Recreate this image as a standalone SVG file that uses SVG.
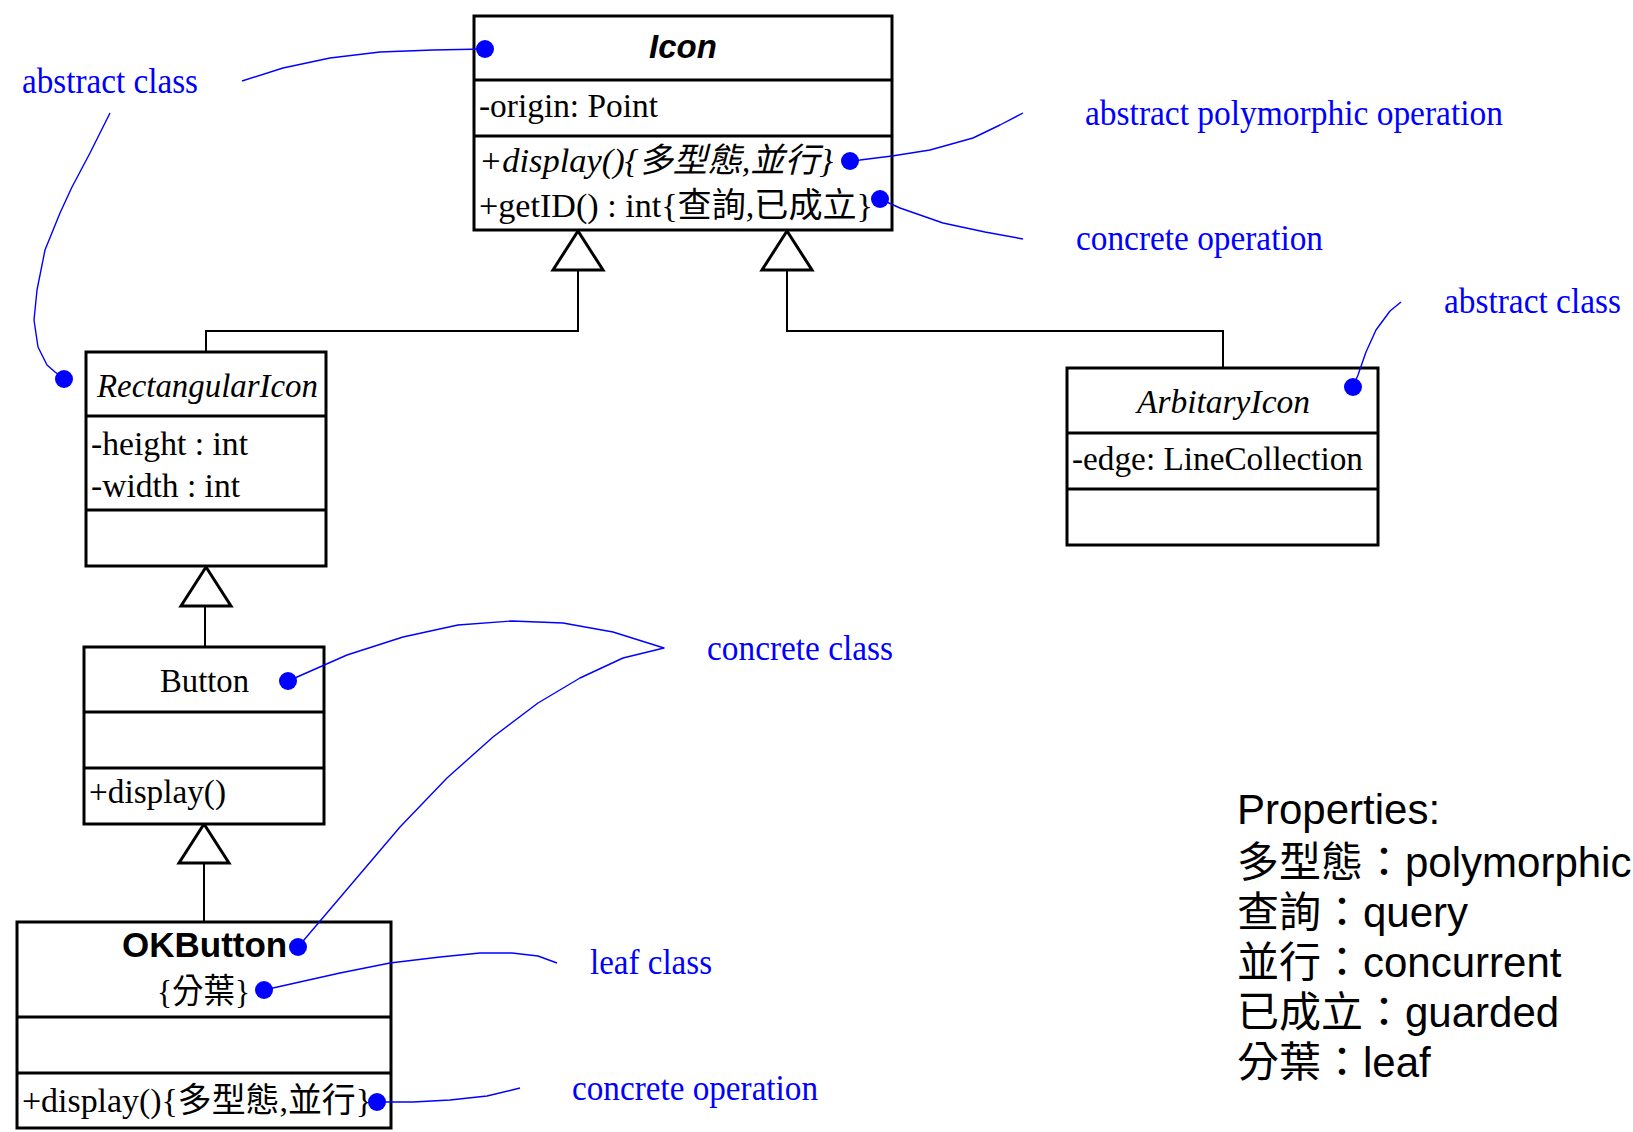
<svg xmlns="http://www.w3.org/2000/svg" width="1633" height="1132" viewBox="0 0 1633 1132">
<style>
.box{fill:#fff;stroke:#000;stroke-width:3}
.div{stroke:#000;stroke-width:3}
.con{fill:none;stroke:#000;stroke-width:2}
.tri{fill:#fff;stroke:#000;stroke-width:3;stroke-linejoin:miter}
.ldr{fill:none;stroke:#0000ff;stroke-width:1.4;stroke-linejoin:round}
.dot{fill:#0000ff}
.s{font-family:"Liberation Serif","Noto Sans CJK TC",serif;font-size:34px;fill:#000}
.i{font-style:italic}
.b{font-family:"Liberation Sans",Arial,sans-serif;font-weight:bold;fill:#000}
.note{font-family:"Liberation Serif","Noto Sans CJK TC",serif;font-size:35px;fill:#0000ff}
.prop{font-family:"Liberation Sans","Noto Sans CJK TC",sans-serif;font-size:42px;fill:#000}
</style>
<rect width="1633" height="1132" fill="#fff"/>

<g id="connectors">
  <polyline class="con" points="578,270 578,331 206,331 206,352"/>
  <polyline class="con" points="787,270 787,331 1223,331 1223,368"/>
  <line class="con" x1="205" y1="606" x2="205" y2="647"/>
  <line class="con" x1="204" y1="863" x2="204" y2="922"/>
  <polygon class="tri" points="578,231 553,270 603,270"/>
  <polygon class="tri" points="787,231 762,270 812,270"/>
  <polygon class="tri" points="206,567 181,606 231,606"/>
  <polygon class="tri" points="204,824 179,863 229,863"/>
</g>

<g id="Icon">
  <rect class="box" x="474" y="16" width="418" height="214"/>
  <line class="div" x1="474" y1="80" x2="892" y2="80"/>
  <line class="div" x1="474" y1="136" x2="892" y2="136"/>
  <text class="b i" x="683" y="58" font-size="33" text-anchor="middle">Icon</text>
  <text class="s" x="479" y="117" textLength="179" lengthAdjust="spacingAndGlyphs">-origin: Point</text>
  <text class="s i" x="479" y="172" textLength="354" lengthAdjust="spacingAndGlyphs">+display(){多型態,並行}</text>
  <text class="s" x="479" y="217" textLength="394" lengthAdjust="spacingAndGlyphs">+getID() : int{查詢,已成立}</text>
</g>

<g id="RectangularIcon">
  <rect class="box" x="86" y="352" width="240" height="214"/>
  <line class="div" x1="86" y1="416" x2="326" y2="416"/>
  <line class="div" x1="86" y1="510" x2="326" y2="510"/>
  <text class="s i" x="97" y="397" textLength="221" lengthAdjust="spacingAndGlyphs">RectangularIcon</text>
  <text class="s" x="91" y="455" textLength="157" lengthAdjust="spacingAndGlyphs">-height : int</text>
  <text class="s" x="91" y="497" textLength="149" lengthAdjust="spacingAndGlyphs">-width : int</text>
</g>

<g id="ArbitaryIcon">
  <rect class="box" x="1067" y="368" width="311" height="177"/>
  <line class="div" x1="1067" y1="433" x2="1378" y2="433"/>
  <line class="div" x1="1067" y1="489" x2="1378" y2="489"/>
  <text class="s i" x="1137" y="413" textLength="173" lengthAdjust="spacingAndGlyphs">ArbitaryIcon</text>
  <text class="s" x="1072" y="470" textLength="291" lengthAdjust="spacingAndGlyphs">-edge: LineCollection</text>
</g>

<g id="Button">
  <rect class="box" x="84" y="647" width="240" height="177"/>
  <line class="div" x1="84" y1="712" x2="324" y2="712"/>
  <line class="div" x1="84" y1="768" x2="324" y2="768"/>
  <text class="s" x="160" y="692" textLength="89" lengthAdjust="spacingAndGlyphs">Button</text>
  <text class="s" x="89" y="803" textLength="137" lengthAdjust="spacingAndGlyphs">+display()</text>
</g>

<g id="OKButton">
  <rect class="box" x="17" y="922" width="374" height="206"/>
  <line class="div" x1="17" y1="1017" x2="391" y2="1017"/>
  <line class="div" x1="17" y1="1073" x2="391" y2="1073"/>
  <text class="b" x="122" y="957" font-size="35">OKButton</text>
  <text class="s" x="157" y="1003" textLength="93" lengthAdjust="spacingAndGlyphs">{分葉}</text>
  <text class="s" x="22" y="1112" textLength="350" lengthAdjust="spacingAndGlyphs">+display(){多型態,並行}</text>
</g>

<g id="annotations">
  <polyline class="ldr" points="242,81 283,68 330,58 380,52 433,50 485,49"/>
  <polyline class="ldr" points="110,113 90,153 72,187 60,213 45,250 37,290 34,320 38,347 47,365 55,372 64,379"/>
  <polyline class="ldr" points="1023,113 1000,125 973,138 930,150 892,156 860,160 850,161"/>
  <polyline class="ldr" points="880,199 900,208 943,223 985,232 1023,239"/>
  <polyline class="ldr" points="1353,387 1358,375 1366,352 1376,330 1390,311 1401,302"/>
  <polyline class="ldr" points="288,681 347,655 403,637 458,625 512,621 563,623 613,632 664,648 623,658 580,678 538,703 493,737 447,778 400,827 298,947"/>
  <polyline class="ldr" points="264,990 340,973 390,963 440,957 480,953 512,953 538,956 557,963"/>
  <polyline class="ldr" points="377,1102 413,1102 450,1100 487,1096 520,1088"/>
  <circle class="dot" cx="485" cy="49" r="9"/>
  <circle class="dot" cx="64" cy="379" r="9"/>
  <circle class="dot" cx="850" cy="161" r="9"/>
  <circle class="dot" cx="880" cy="199" r="9"/>
  <circle class="dot" cx="1353" cy="387" r="9"/>
  <circle class="dot" cx="288" cy="681" r="9"/>
  <circle class="dot" cx="298" cy="947" r="9"/>
  <circle class="dot" cx="264" cy="990" r="9"/>
  <circle class="dot" cx="377" cy="1102" r="9"/>
  <text class="note" x="22" y="93" textLength="176" lengthAdjust="spacingAndGlyphs">abstract class</text>
  <text class="note" x="1085" y="125" textLength="418" lengthAdjust="spacingAndGlyphs">abstract polymorphic operation</text>
  <text class="note" x="1076" y="250" textLength="247" lengthAdjust="spacingAndGlyphs">concrete operation</text>
  <text class="note" x="1444" y="313" textLength="177" lengthAdjust="spacingAndGlyphs">abstract class</text>
  <text class="note" x="707" y="660" textLength="186" lengthAdjust="spacingAndGlyphs">concrete class</text>
  <text class="note" x="590" y="974" textLength="122" lengthAdjust="spacingAndGlyphs">leaf class</text>
  <text class="note" x="572" y="1100" textLength="246" lengthAdjust="spacingAndGlyphs">concrete operation</text>
</g>

<g id="properties">
  <text class="prop" x="1237" y="824">Properties:</text>
  <text class="prop" x="1237" y="877">多型態：polymorphic</text>
  <text class="prop" x="1237" y="927">查詢：query</text>
  <text class="prop" x="1237" y="977">並行：concurrent</text>
  <text class="prop" x="1237" y="1027">已成立：guarded</text>
  <text class="prop" x="1237" y="1077">分葉：leaf</text>
</g>
</svg>
